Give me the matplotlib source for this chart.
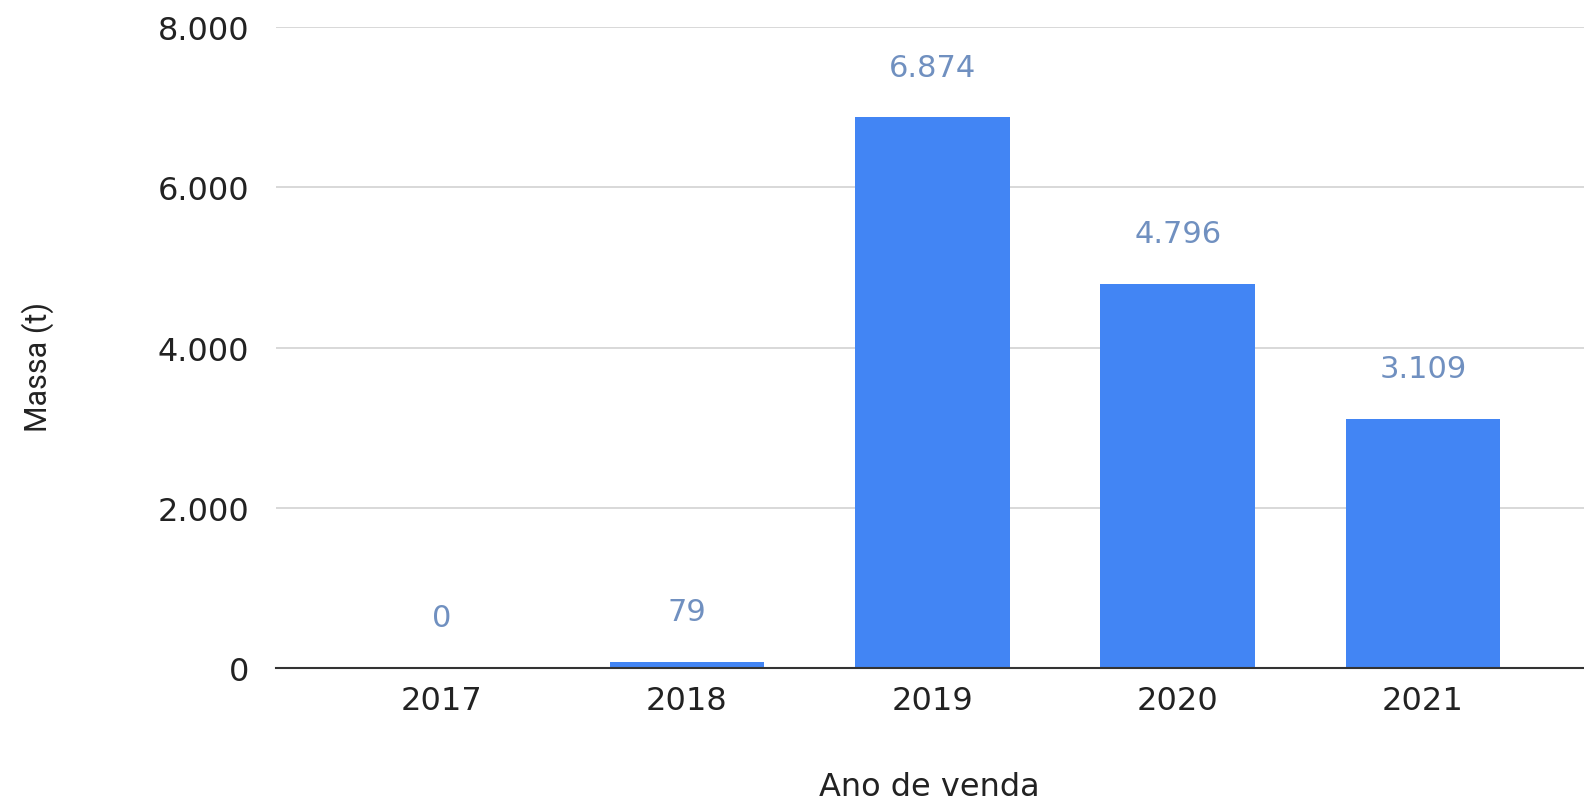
import matplotlib.pyplot as plt

# Dados do grafico
anos = ["2017", "2018", "2019", "2020", "2021"]
massa = [0, 79, 6874, 4796, 3109]
yticks = [0, 2000, 4000, 6000, 8000]


def fmt(v):
    # separador de milhar com ponto
    return f"{v:,}".replace(",", ".")


plt.rcParams['font.family'] = ['DejaVu Sans']

fig = plt.figure(figsize=(15.84, 8.04), dpi=100)
ax = fig.add_axes([0.174, 0.168, 0.826, 0.797])

x = list(range(len(anos)))
ax.bar(x, massa, width=0.63, color="#4285F4", zorder=3)

for xi, v in zip(x, massa):
    ax.annotate(fmt(v), (xi, v), xytext=(0, 36), textcoords="offset points",
                ha="center", va="center", fontsize=22, color="#7090c0")

ax.set_xlim(-0.676, 4.656)
ax.set_ylim(0, 8000)
ax.set_xticks(x)
ax.set_xticklabels(anos, fontsize=23, color="#222222")
ax.set_yticks(yticks)
ax.set_yticklabels([fmt(t) for t in yticks], fontsize=23, color="#222222")
ax.tick_params(axis="y", length=0, pad=19)
ax.tick_params(axis="x", length=0, pad=12)

ax.grid(axis="y", color="#d6d6d6", linewidth=1.3, zorder=0)
for s in ["top", "right", "left"]:
    ax.spines[s].set_visible(False)
ax.spines["bottom"].set_color("#333333")
ax.spines["bottom"].set_linewidth(1.5)
ax.spines["bottom"].set_zorder(4)

ax.set_xlabel("Ano de venda", fontsize=23, color="#222222", labelpad=40)
fig.text(0.024, 0.543, "Massa (t)", rotation=90, ha="center", va="center",
         fontsize=22, color="#222222", family=["Roboto", "DejaVu Sans"])

fig.savefig("out.png", dpi=100)
